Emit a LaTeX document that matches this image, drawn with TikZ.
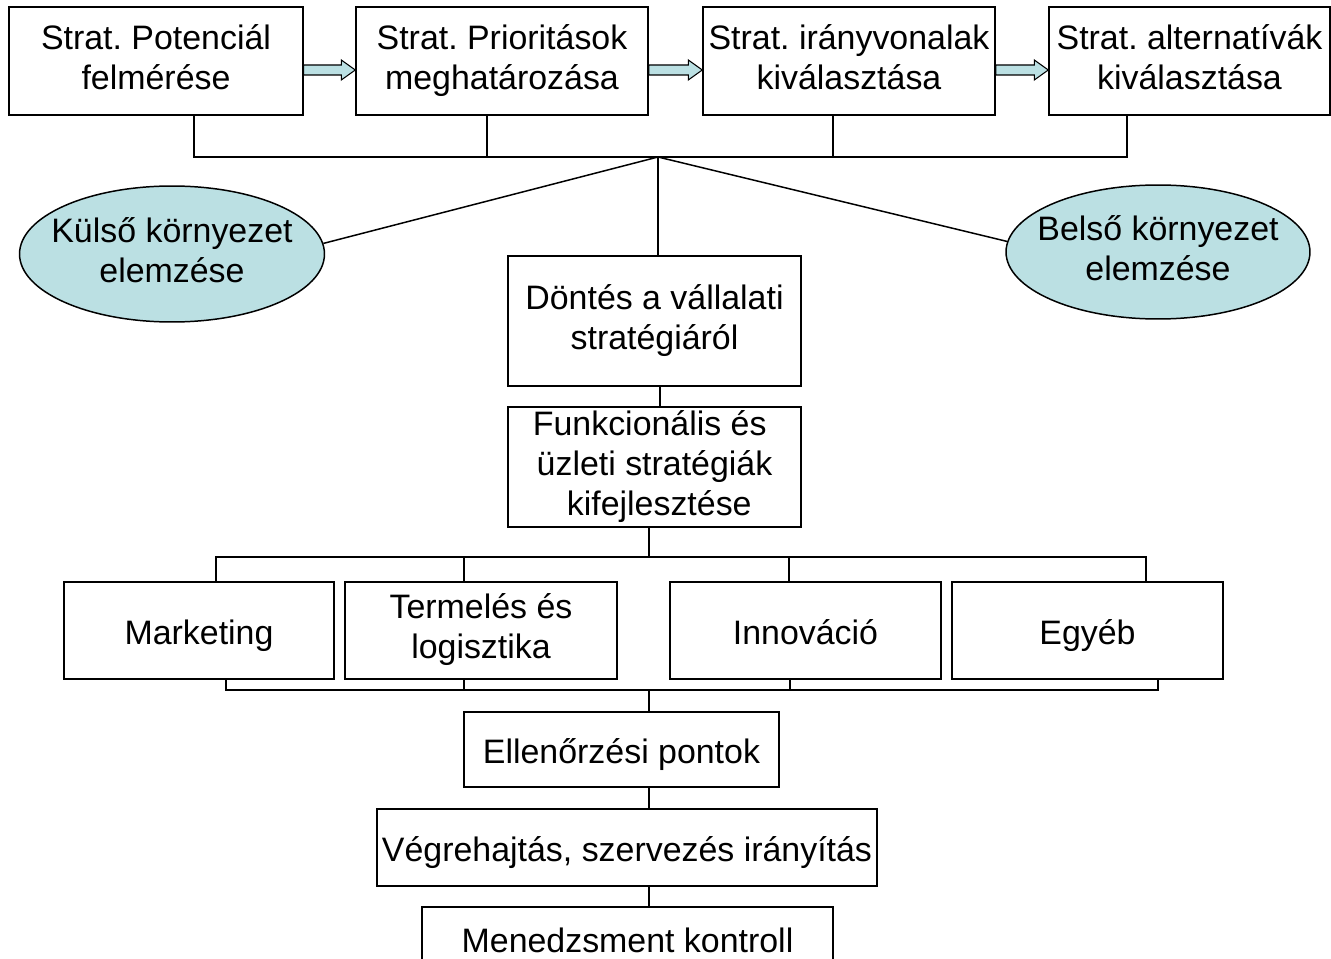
\documentclass[tikz,border=0pt]{standalone}
\usepackage{fontspec}
\setmainfont{Liberation Sans}
\usetikzlibrary{calc,shapes.geometric}
\definecolor{ovalfill}{HTML}{BBE0E3}
\newcommand{\boxstrut}{\rule[-0.25em]{0pt}{1.33em}}
\frenchspacing

\begin{document}
\begin{tikzpicture}[x=0.02cm, y=-0.02cm, line width=0.85pt,
    box/.style={draw, rectangle, inner sep=0pt, align=center, font=\fontsize{19.3}{22.7}\selectfont,
      execute at begin node=\boxstrut, execute at end node=\boxstrut},
    oval/.style={draw, ellipse, fill=ovalfill, inner xsep=-0.5cm, inner ysep=0pt, align=center,
      font=\fontsize{19.3}{22.7}\selectfont, execute at begin node=\boxstrut, execute at end node=\boxstrut},
    blockarr/.style={draw, fill=ovalfill, line width=0.6pt, line join=miter}]
      \useasboundingbox (0,0) rectangle (1331,959);
      \clip (0,0) rectangle (1331,959);

      % Stratégiai lépések
      \node[box, minimum width=5.88cm, minimum height=2.16cm] (b1) at (156,61) {Strat. Potenciál\\ felmérése};
      \node[box, minimum width=5.84cm, minimum height=2.16cm] (b2) at (502,61) {Strat. Prioritások\\ meghatározása};
      \node[box, minimum width=5.84cm, minimum height=2.16cm] (b3) at (849,61) {Strat. irányvonalak\\ kiválasztása};
      \node[box, minimum width=5.62cm, minimum height=2.16cm] (b4) at (1189.5,61) {Strat. alternatívák\\ kiválasztása};

      % Nyilak a lépések között
      \draw[blockarr] ($(b1.east)+(0,4)$) -- ($(b2.west)+(-14,4)$) -- ($(b2.west)+(-14,-1)$) -- ($(b2.west)+(0,9)$)
        -- ($(b2.west)+(-14,19)$) -- ($(b2.west)+(-14,14)$) -- ($(b1.east)+(0,14)$) -- cycle;
      \draw[blockarr] ($(b2.east)+(0,4)$) -- ($(b3.west)+(-14,4)$) -- ($(b3.west)+(-14,-1)$) -- ($(b3.west)+(0,9)$)
        -- ($(b3.west)+(-14,19)$) -- ($(b3.west)+(-14,14)$) -- ($(b2.east)+(0,14)$) -- cycle;
      \draw[blockarr] ($(b3.east)+(0,4)$) -- ($(b4.west)+(-14,4)$) -- ($(b4.west)+(-14,-1)$) -- ($(b4.west)+(0,9)$)
        -- ($(b4.west)+(-14,19)$) -- ($(b4.west)+(-14,14)$) -- ($(b3.east)+(0,14)$) -- cycle;

      % Felső gyűjtővonal
      \coordinate (s1) at (194,157);
      \coordinate (s2) at (487,157);
      \coordinate (s3) at (833,157);
      \coordinate (s4) at (1127,157);
      \coordinate (hub) at (658,157);
      \draw (s1 |- b1.south) -- (s1) -- (s4) -- (s4 |- b4.south);
      \draw (s2 |- b2.south) -- (s2);
      \draw (s3 |- b3.south) -- (s3);

      % Környezet elemzése
      \node[oval, minimum width=6.1cm, minimum height=2.72cm] (kulso) at (172,254) {Külső környezet\\ elemzése};
      \node[oval, minimum width=6.08cm, minimum height=2.68cm] (belso) at (1158,252) {Belső környezet\\ elemzése};

      % Döntés és funkcionális stratégiák
      \node[box, minimum width=5.86cm, minimum height=2.6cm] (dontes) at (654.5,321) {Döntés a vállalati\\ stratégiáról};
      \node[box, minimum width=5.86cm, minimum height=2.4cm] (funk) at (654.5,467)
        {Funkcionális és\rule{0.28em}{0pt}\\ üzleti stratégiák\\ \rule{0.28em}{0pt}kifejlesztése};

      \draw (hub) -- (kulso.4);
      \draw (hub) -- (belso.176);
      \draw (hub) -- (hub |- dontes.north);
      \draw ($(dontes.south)+(5.5,0)$) -- ($(funk.north)+(5.5,0)$);

      % Funkcionális területek
      \node[box, minimum width=5.4cm, minimum height=1.94cm] (mkt) at (199,630.5) {Marketing};
      \node[box, minimum width=5.44cm, minimum height=1.94cm] (term) at (481,630.5) {Termelés és\\ logisztika};
      \node[box, minimum width=5.42cm, minimum height=1.94cm] (inno) at (805.5,630.5) {Innováció};
      \node[box, minimum width=5.42cm, minimum height=1.94cm] (egyeb) at (1087.5,630.5) {Egyéb};

      \coordinate (fbus) at (649,557);
      \coordinate (t1) at (216,557);
      \coordinate (t2) at (464,557);
      \coordinate (t3) at (789,557);
      \coordinate (t4) at (1146,557);
      \draw (fbus |- funk.south) -- (fbus);
      \draw (t1 |- mkt.north) -- (t1) -- (t4) -- (t4 |- egyeb.north);
      \draw (t2) -- (t2 |- term.north);
      \draw (t3) -- (t3 |- inno.north);

      \coordinate (ebus) at (649,690);
      \coordinate (u1) at (226,690);
      \coordinate (u2) at (464,690);
      \coordinate (u3) at (790,690);
      \coordinate (u4) at (1158,690);
      \draw (u1 |- mkt.south) -- (u1) -- (u4) -- (u4 |- egyeb.south);
      \draw (u2 |- term.south) -- (u2);
      \draw (u3 |- inno.south) -- (u3);

      % Megvalósítás és kontroll
      \node[box, minimum width=6.3cm, minimum height=1.5cm] (ell) at (621.5,749.5) {Ellenőrzési pontok};
      \node[box, minimum width=10cm, minimum height=1.54cm] (vegre) at (627,847.5) {Végrehajtás, szervezés irányítás};
      \node[box, minimum width=8.22cm, minimum height=1.24cm] (menedz) at (627.5,938) {Menedzsment kontroll};

      \draw (ebus) -- (ebus |- ell.north);
      \draw (ell.south -| ebus) -- (vegre.north -| ebus);
      \draw (vegre.south -| ebus) -- (menedz.north -| ebus);
    \end{tikzpicture}
\end{document}
